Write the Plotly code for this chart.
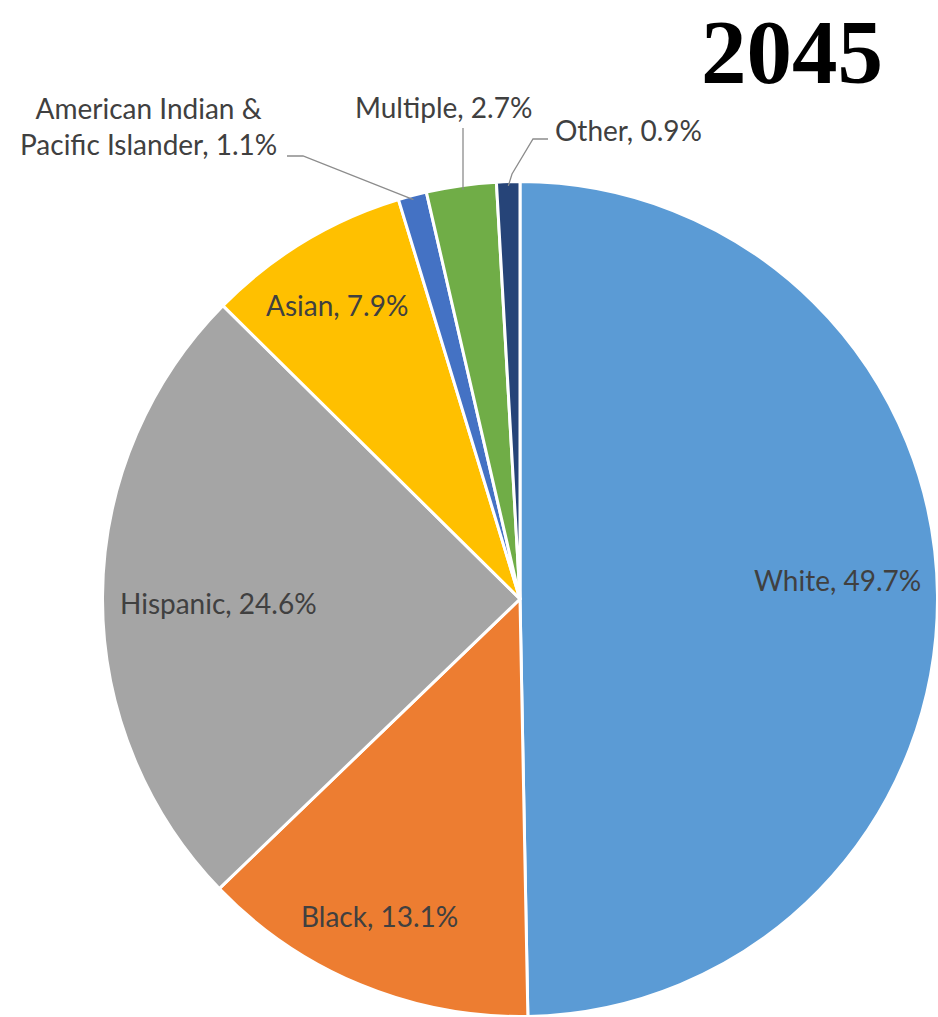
import math
import plotly.graph_objects as go

# Projected population shares, 2045
groups = ["White", "Black", "Hispanic", "Asian",
          "American Indian &<br>Pacific Islander", "Multiple", "Other"]
shares = [49.7, 13.1, 24.6, 7.9, 1.1, 2.7, 0.9]
colors = ["#5B9BD5", "#ED7D31", "#A5A5A5", "#FFC000",
          "#4472C4", "#70AD47", "#264478"]
title_text = "2045"

W, H = 938, 1017
CX, CY, R = 520, 599, 417.5   # pie centre / radius in pixels

TEXT_COLOR = "#404040"
FONT = "Lato"
FSIZE = 28

fig = go.Figure()

fig.add_trace(go.Pie(
    labels=groups,
    values=shares,
    sort=False,
    direction="clockwise",
    rotation=0,
    marker=dict(colors=colors, line=dict(color="white", width=3)),
    textinfo="none",
    hoverinfo="label+percent",
    showlegend=False,
    domain=dict(x=[(CX - R) / W, (CX + R) / W],
                y=[1 - (CY + R) / H, 1 - (CY - R) / H]),
))

# mid-angle of every slice (degrees clockwise from 12 o'clock)
total = sum(shares)
mids = []
acc = 0.0
for v in shares:
    mids.append((acc + v / 2) / total * 360)
    acc += v


def polar(theta_deg, rfrac):
    t = math.radians(theta_deg)
    return CX + R * rfrac * math.sin(t), CY - R * rfrac * math.cos(t)


def label(i):
    return f"{groups[i]}, {shares[i]}%"


# labels drawn inside the large slices: (radius fraction, angle nudge)
inside = {0: (0.763, -2.9), 1: (0.83, 1.4), 2: (0.723, -1.2), 3: (0.829, -0.8)}
for i, (rf, nudge) in inside.items():
    x, y = polar(mids[i] + nudge, rf)
    fig.add_annotation(x=x, y=y, xref="x", yref="y", text=label(i),
                       showarrow=False, xanchor="center", yanchor="middle",
                       font=dict(family=FONT, size=FSIZE, color=TEXT_COLOR))

# small slices: labels outside with leader lines
outside = {
    4: dict(text_xy=(148, 126), anchor="center", path=[(303, 156), (287, 156)]),
    5: dict(text_xy=(443, 107), anchor="center", path=[(463, 128)]),
    6: dict(text_xy=(553, 130), anchor="left", path=[(512, 174), (533, 139), (548, 139)]),
}
for i, spec in outside.items():
    ex, ey = polar(mids[i], 0.99)
    if i == 5:
        pts = [(spec["path"][0][0], ey)] + spec["path"]
    else:
        pts = [(ex, ey)] + spec["path"]
    d = "M " + " L ".join(f"{px},{py}" for px, py in pts)
    fig.add_shape(type="path", path=d, xref="x", yref="y",
                  line=dict(color="#8C8C8C", width=1.3))
    tx, ty = spec["text_xy"]
    fig.add_annotation(x=tx, y=ty, xref="x", yref="y", text=label(i),
                       showarrow=False, xanchor=spec["anchor"], yanchor="middle",
                       align="center",
                       font=dict(family=FONT, size=FSIZE, color=TEXT_COLOR))

# year heading
fig.add_annotation(x=792, y=0, xref="x", yref="y", text=f"<b>{title_text}</b>",
                   showarrow=False, xanchor="center", yanchor="top",
                   font=dict(family="Liberation Serif", size=91, color="black"))

fig.update_layout(
    width=W, height=H,
    margin=dict(l=0, r=0, t=0, b=0),
    paper_bgcolor="white", plot_bgcolor="rgba(0,0,0,0)",
    xaxis=dict(range=[0, W], visible=False, fixedrange=True),
    yaxis=dict(range=[H, 0], visible=False, fixedrange=True),
)

fig.write_html("out.html")
